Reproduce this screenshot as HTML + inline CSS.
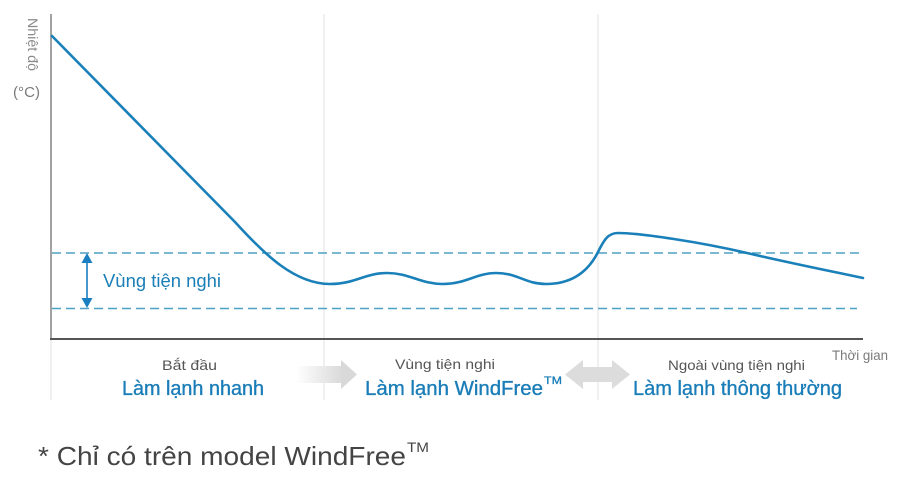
<!DOCTYPE html>
<html>
<head>
<meta charset="utf-8">
<style>
  html,body{margin:0;padding:0;background:#fff;}
  svg{display:block;}
  text{font-family:"Liberation Sans","DejaVu Sans",sans-serif;}
</style>
</head>
<body>
<svg width="922" height="481" viewBox="0 0 922 481" xmlns="http://www.w3.org/2000/svg">
  <defs>
    <linearGradient id="g1" x1="296" y1="0" x2="357" y2="0" gradientUnits="userSpaceOnUse">
      <stop offset="0" stop-color="#ffffff"/>
      <stop offset="0.7" stop-color="#dcdcdc"/>
      <stop offset="1" stop-color="#d8d8d8"/>
    </linearGradient>
  </defs>

  <!-- separators -->
  <line x1="324" y1="14" x2="324" y2="400" stroke="#e0e0e0" stroke-width="1"/>
  <line x1="598" y1="14" x2="598" y2="400" stroke="#e0e0e0" stroke-width="1"/>
  <line x1="51" y1="339" x2="51" y2="400" stroke="#e0e0e0" stroke-width="1"/>

  <!-- comfort dashed lines -->
  <line x1="52" y1="253" x2="862" y2="253" stroke="#4ea1c4" stroke-width="1.5" stroke-dasharray="9,5"/>
  <line x1="52" y1="308.5" x2="857" y2="308.5" stroke="#4ea1c4" stroke-width="1.5" stroke-dasharray="9,5"/>

  <!-- axes -->
  <line x1="51" y1="14" x2="51" y2="340" stroke="#8a8a8a" stroke-width="1.6"/>
  <line x1="50" y1="339" x2="863" y2="339" stroke="#555" stroke-width="2"/>

  <!-- curve -->
  <path d="M52,36 L235,222 C265,255 295,284 330,284 C355,284 365,273 387,273 C410,273 420,284 443,284 C466,284 476,273 496,273 C518,273 525,284 546,284 C575,284 590,268 598,252 C604,240 608,233 618,233 C640,233 700,242 747,253 C790,263 830,271 863,278"
        fill="none" stroke="#1a80b9" stroke-width="2.6" stroke-linejoin="round" stroke-linecap="round"/>

  <!-- comfort arrow -->
  <line x1="87" y1="260" x2="87" y2="302" stroke="#1a7fc1" stroke-width="1.6"/>
  <polygon points="87,253 81.5,263 92.5,263" fill="#1a7fc1"/>
  <polygon points="87,308 81.5,298 92.5,298" fill="#1a7fc1"/>
  <text x="103" y="287" font-size="18" fill="#1a7fb8" textLength="118" lengthAdjust="spacingAndGlyphs">Vùng tiện nghi</text>

  <!-- y label -->
  <text transform="translate(28,18) rotate(90)" font-size="14" fill="#8a8a8a" textLength="53" lengthAdjust="spacingAndGlyphs">Nhiệt độ</text>
  <text x="13" y="97" font-size="15" fill="#7a7a7a" textLength="27" lengthAdjust="spacingAndGlyphs">(°C)</text>

  <!-- x label -->
  <text x="832" y="360" font-size="14" fill="#7a7a7a" textLength="56" lengthAdjust="spacingAndGlyphs">Thời gian</text>

  <!-- gray arrows -->
  <rect x="296" y="366" width="46" height="17" fill="url(#g1)"/>
  <polygon points="341,360 357,374.5 341,389" fill="#d9d9d9"/>
  <polygon points="565,374.5 583,360 583,367 612,367 612,360 630,374.5 612,389 612,382 583,382 583,389" fill="#dcdcdc"/>

  <!-- section labels -->
  <text x="162" y="370" font-size="14" fill="#555" textLength="55" lengthAdjust="spacingAndGlyphs">Bắt đầu</text>
  <text x="122" y="395" font-size="20" fill="#1a7db8" stroke="#1a7db8" stroke-width="0.35" textLength="142" lengthAdjust="spacingAndGlyphs">Làm lạnh nhanh</text>

  <text x="395" y="369" font-size="14" fill="#555" textLength="100" lengthAdjust="spacingAndGlyphs">Vùng tiện nghi</text>
  <text x="365" y="395" font-size="20" fill="#1a7db8" stroke="#1a7db8" stroke-width="0.35" textLength="178" lengthAdjust="spacingAndGlyphs">Làm lạnh WindFree</text>
  <text x="544" y="384" font-size="11" fill="#1a7db8" stroke="#1a7db8" stroke-width="0.3" textLength="18" lengthAdjust="spacingAndGlyphs">TM</text>

  <text x="668" y="370" font-size="14" fill="#555" textLength="137" lengthAdjust="spacingAndGlyphs">Ngoài vùng tiện nghi</text>
  <text x="633" y="395" font-size="20" fill="#1a7db8" stroke="#1a7db8" stroke-width="0.35" textLength="209" lengthAdjust="spacingAndGlyphs">Làm lạnh thông thường</text>

  <!-- footnote -->
  <text x="38" y="465" font-size="26" fill="#444" textLength="368" lengthAdjust="spacingAndGlyphs">* Chỉ có trên model WindFree</text>
  <text x="407" y="452" font-size="14" fill="#444" textLength="22" lengthAdjust="spacingAndGlyphs">TM</text>
</svg>
</body>
</html>
